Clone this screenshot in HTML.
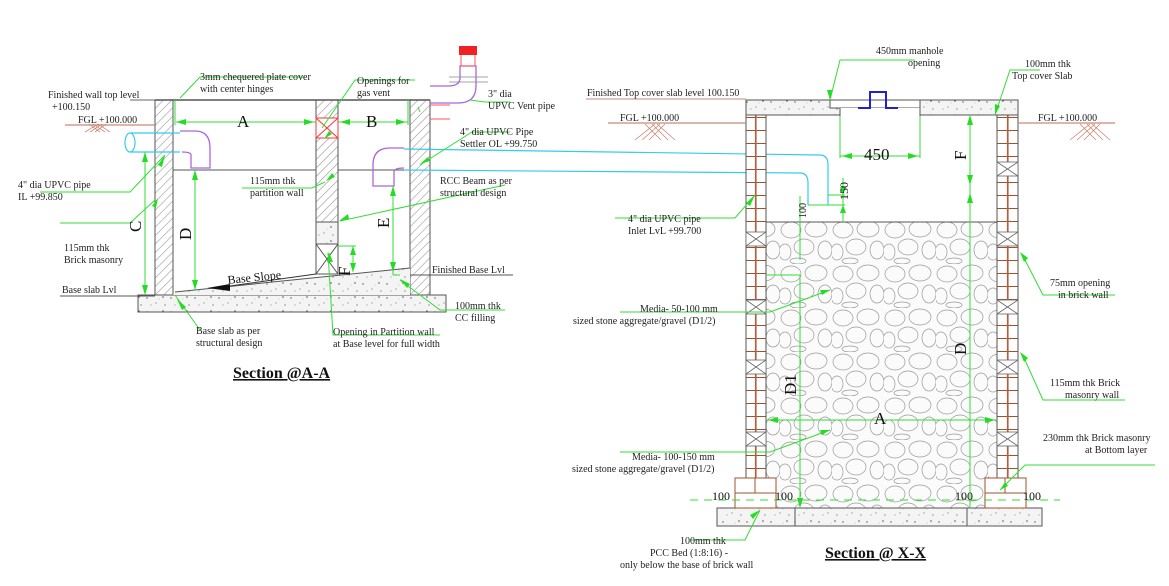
<!DOCTYPE html>
<html><head><meta charset="utf-8"><style>
html,body{margin:0;padding:0;background:#fff;}
svg{display:block;font-family:"Liberation Serif",serif;}
</style></head><body>
<svg width="1169" height="586" viewBox="0 0 1169 586" xmlns="http://www.w3.org/2000/svg">
<defs>
<pattern id="hatch" width="6" height="6" patternUnits="userSpaceOnUse" patternTransform="rotate(45)">
<rect width="6" height="6" fill="#fff"/><line x1="0" y1="0" x2="0" y2="6" stroke="#999" stroke-width="1.2"/></pattern>
<pattern id="conc" width="24" height="14" patternUnits="userSpaceOnUse">
<rect width="24" height="14" fill="#f4f4f4"/><circle cx="3" cy="4" r=".7" fill="#555"/><circle cx="12" cy="9" r=".6" fill="#777"/><circle cx="19" cy="3" r=".8" fill="#555"/><circle cx="7" cy="11" r=".5" fill="#666"/><circle cx="21" cy="11" r=".6" fill="#555"/><circle cx="15" cy="5" r=".4" fill="#888"/></pattern>
<pattern id="grav" width="52" height="44" patternUnits="userSpaceOnUse">
<rect width="52" height="44" fill="#fbfbfb"/><g fill="none" stroke="#999" stroke-width=".7">
<ellipse cx="11" cy="10" rx="10" ry="8"/><ellipse cx="36" cy="9" rx="11" ry="8"/><ellipse cx="24" cy="27" rx="10" ry="8"/><ellipse cx="5" cy="32" rx="6" ry="8"/><ellipse cx="45" cy="30" rx="7" ry="9"/><ellipse cx="18" cy="41" rx="8" ry="3"/></g></pattern>
<pattern id="brick" width="21" height="13" patternUnits="userSpaceOnUse">
<rect width="21" height="13" fill="#fff"/><line x1="0" y1="0" x2="21" y2="0" stroke="#a0522d" stroke-width="2"/><line x1="0" y1="0" x2="0" y2="13" stroke="#b06040" stroke-width="1.2"/><line x1="20.5" y1="0" x2="20.5" y2="13" stroke="#b06040" stroke-width="1.2"/></pattern>
</defs>

<!-- ============ LEFT SECTION A-A ============ -->
<g stroke="#555" stroke-width="1">
<rect x="138" y="295" width="308" height="17" fill="url(#conc)"/>
<rect x="155" y="100" width="18" height="195" fill="url(#hatch)"/>
<rect x="410" y="100" width="20" height="195" fill="url(#hatch)"/>
<rect x="316" y="100" width="22" height="18" fill="url(#hatch)"/>
<rect x="316" y="138" width="22" height="84" fill="url(#hatch)"/>
<rect x="316" y="222" width="22" height="22" fill="url(#conc)"/>
<rect x="316" y="244" width="22" height="30" fill="#fff"/>
<line x1="316" y1="244" x2="338" y2="274"/><line x1="338" y1="244" x2="316" y2="274"/>
<line x1="155" y1="100" x2="430" y2="100" stroke-width="1.5"/>
<line x1="173" y1="170" x2="316" y2="170"/><line x1="338" y1="170" x2="410" y2="170"/>
<polygon points="175,292 410,268 410,295 173,295" fill="url(#conc)" stroke="none"/>
<line x1="175" y1="292" x2="410" y2="268"/>
<line x1="410" y1="275" x2="513" y2="275"/>
<line x1="60" y1="296" x2="155" y2="296"/>
</g>
<rect x="316" y="118" width="22" height="20" fill="#fff" stroke="#f33"/>
<line x1="316" y1="118" x2="338" y2="138" stroke="#f33"/><line x1="338" y1="118" x2="316" y2="138" stroke="#f33"/>
<line x1="65" y1="125" x2="155" y2="125" stroke="#c87" stroke-width="1.2"/>
<g stroke="#c87" stroke-width=".8"><line x1="85" y1="132" x2="98" y2="124"/><line x1="90" y1="132" x2="102" y2="124"/><line x1="95" y1="132" x2="106" y2="124"/><line x1="110" y1="132" x2="98" y2="124"/><line x1="105" y1="132" x2="93" y2="124"/><line x1="100" y1="132" x2="89" y2="124"/></g>
<g fill="none" stroke="#3ce" stroke-width="1.2">
<path d="M130,133 L180,133 M130,152 L180,152"/><ellipse cx="130" cy="142.5" rx="5" ry="9.5"/>
<path d="M404,149 L820,155 Q828,155 828,165 L828,205 M404,170 L800,173 Q808,173 808,183 L808,205"/>
</g>
<g fill="none" stroke="#a6d" stroke-width="1.3">
<path d="M180,131 L195,131 Q210,131 210,148 L210,168 L191,168 L191,155 Q191,152 182,152"/>
<path d="M404,148 L390,148 Q373,148 373,165 L373,186 L394,186 L394,172 Q394,168 404,168"/>
<path d="M430,86 L448,86 Q460,86 460,78 L460,66 L476,66 L476,86 Q476,103 458,103 L430,103"/>
</g>
<g stroke="#f55" fill="none"><line x1="430" y1="105" x2="450" y2="105"/><line x1="430" y1="119" x2="450" y2="119"/><rect x="461" y="52" width="14" height="14"/></g>
<rect x="459" y="46" width="18" height="9" fill="#e22"/>
<g stroke="#888" stroke-width=".8"><line x1="449" y1="77" x2="488" y2="77"/><line x1="449" y1="82" x2="488" y2="82"/></g>

<g stroke="#3d3" stroke-width="1" fill="none">
<line x1="176" y1="122" x2="316" y2="122"/><line x1="338" y1="122" x2="408" y2="122"/>
<line x1="175" y1="100" x2="175" y2="125"/><line x1="408" y1="100" x2="408" y2="125"/>
<line x1="145" y1="152" x2="145" y2="295"/>
<line x1="195" y1="170" x2="195" y2="290"/>
<line x1="393" y1="186" x2="393" y2="275"/><path d="M393,275 L400,275"/>
<line x1="353" y1="246" x2="353" y2="272"/><line x1="338" y1="246" x2="356" y2="246"/>
<line x1="340" y1="221" x2="505" y2="185"/>
<path d="M165,155 L130,192 L40,192"/><path d="M155,200 L130,223 L60,223"/>
<path d="M180,98 L200,77 L305,77"/><path d="M322,128 L355,80 L415,80"/>
<path d="M325,182 L312,188 L242,188"/><path d="M420,165 L472,132 L510,132"/>
<path d="M418,107 L420,112"/><path d="M470,100 L485,102 L510,102"/>
<path d="M175,295 L200,330"/><path d="M328,253 L333,335 L440,335"/>
<path d="M400,280 L440,310 L505,310"/>
<line x1="130" y1="100" x2="155" y2="100" stroke="#666"/>
</g>
<g fill="#2d2">
<polygon points="176,122 186,119 186,125"/><polygon points="314,122 304,119 304,125"/>
<polygon points="340,122 350,119 350,125"/><polygon points="406,122 396,119 396,125"/>
<polygon points="145,152 142,162 148,162"/><polygon points="145,295 142,285 148,285"/>
<polygon points="195,170 192,180 198,180"/><polygon points="195,290 192,280 198,280"/>
<polygon points="393,186 390,196 396,196"/><polygon points="393,272 390,262 396,262"/>
<polygon points="353,246 350,255 356,255"/><polygon points="353,272 350,263 356,263"/>
<polygon points="165,155 158,165 162,167"/><polygon points="158,198 152,206 156,208"/>
<polygon points="326,181 332,173 335,177"/><polygon points="420,164 428,157 430,161"/>
<polygon points="324,139 329,131 332,134"/><polygon points="339,221 348,214 349,219"/>
<polygon points="177,299 186,307 182,310"/><polygon points="400,279 410,284 407,288"/>
<polygon points="329,252 327,262 333,262"/>
</g>
<polygon points="207,288 230,284 230,291" fill="#111"/>
<line x1="230" y1="286" x2="316" y2="274" stroke="#333"/>

<g font-size="10" fill="#222">
<text x="48" y="98">Finished wall top level</text><text x="52" y="110">+100.150</text>
<text x="78" y="123">FGL +100.000</text>
<text x="18" y="188">4" dia UPVC pipe</text><text x="18" y="200">IL +99.850</text>
<text x="64" y="251">115mm thk</text><text x="64" y="263">Brick masonry</text>
<text x="62" y="293">Base slab Lvl</text>
<text x="200" y="80">3mm chequered plate cover</text><text x="200" y="92">with center hinges</text>
<text x="357" y="84">Openings for</text><text x="357" y="96">gas vent</text>
<text x="488" y="97">3" dia</text><text x="488" y="109">UPVC Vent pipe</text>
<text x="460" y="135">4" dia UPVC Pipe</text><text x="460" y="147">Settler OL +99.750</text>
<text x="250" y="184">115mm thk</text><text x="250" y="196">partition wall</text>
<text x="440" y="184">RCC Beam as per</text><text x="440" y="196">structural design</text>
<text x="432" y="273">Finished Base Lvl</text>
<text x="455" y="309">100mm thk</text><text x="455" y="321">CC filling</text>
<text x="196" y="334">Base slab as per</text><text x="196" y="346">structural design</text>
<text x="333" y="335">Opening in Partition wall</text><text x="333" y="347">at Base level for full width</text>
</g>
<g font-size="17" fill="#111">
<text x="237" y="127">A</text><text x="366" y="127">B</text>
<text transform="translate(141,232) rotate(-90)">C</text>
<text transform="translate(191,240) rotate(-90)">D</text>
<text transform="translate(389,228) rotate(-90)">E</text>
<text transform="translate(350,276) rotate(-90)">F</text>
</g>
<text transform="translate(228,284) rotate(-6)" font-size="12" fill="#111">Base Slope</text>
<text x="233" y="378" font-size="16" font-weight="bold" fill="#111" text-decoration="underline">Section @A-A</text>

<!-- ============ RIGHT SECTION X-X ============ -->
<g stroke="#555" stroke-width="1">
<rect x="717" y="508" width="325" height="18" fill="url(#conc)"/>
<line x1="795" y1="508" x2="795" y2="526"/><line x1="967" y1="508" x2="967" y2="526"/>
<rect x="766" y="222" width="231" height="286" fill="url(#grav)"/>
<rect x="746" y="115" width="20" height="364" fill="url(#brick)"/>
<rect x="997" y="115" width="21" height="364" fill="url(#brick)"/>
<rect x="735" y="478" width="41" height="30" fill="#fff" stroke="#a0522d"/>
<line x1="735" y1="493" x2="776" y2="493" stroke="#a0522d"/><line x1="755" y1="478" x2="755" y2="493" stroke="#a0522d"/>
<rect x="985" y="478" width="41" height="30" fill="#fff" stroke="#a0522d"/>
<line x1="985" y1="493" x2="1026" y2="493" stroke="#a0522d"/><line x1="1005" y1="478" x2="1005" y2="493" stroke="#a0522d"/>
<rect x="746" y="100" width="272" height="15" fill="url(#conc)"/>
<rect x="830" y="100" width="90" height="8" fill="#fff"/>
<rect x="840" y="108" width="80" height="8" fill="#fff" stroke="none"/>
<line x1="840" y1="108" x2="840" y2="116"/><line x1="920" y1="108" x2="920" y2="116"/>
</g>
<g fill="#fff" stroke="#666" stroke-width=".8">
<rect x="746" y="232" width="20" height="14"/><rect x="746" y="300" width="20" height="14"/><rect x="746" y="360" width="20" height="14"/><rect x="746" y="432" width="20" height="14"/>
<rect x="997" y="162" width="21" height="14"/><rect x="997" y="232" width="21" height="14"/><rect x="997" y="300" width="21" height="14"/><rect x="997" y="360" width="21" height="14"/><rect x="997" y="432" width="21" height="14"/>
</g>
<g stroke="#666" stroke-width=".8">
<path d="M746,232 L766,246 M766,232 L746,246 M746,300 L766,314 M766,300 L746,314 M746,360 L766,374 M766,360 L746,374 M746,432 L766,446 M766,432 L746,446"/>
<path d="M997,162 L1018,176 M1018,162 L997,176 M997,232 L1018,246 M1018,232 L997,246 M997,300 L1018,314 M1018,300 L997,314 M997,360 L1018,374 M1018,360 L997,374 M997,432 L1018,446 M1018,432 L997,446"/>
</g>
<path d="M858,108 L870,108 L870,92 L886,92 L886,108 L898,108" fill="none" stroke="#22c" stroke-width="2"/>
<line x1="608" y1="123" x2="746" y2="123" stroke="#c87" stroke-width="1.2"/>
<line x1="1018" y1="123" x2="1115" y2="123" stroke="#c87" stroke-width="1.2"/>
<line x1="586" y1="99" x2="746" y2="99" stroke="#c87"/>
<g stroke="#c87" stroke-width=".8"><path d="M635,140 L655,124 M642,140 L660,124 M649,140 L665,124 M668,140 L652,124 M675,140 L657,124 M661,140 L645,124"/>
<path d="M1070,140 L1090,124 M1077,140 L1095,124 M1084,140 L1100,124 M1103,140 L1087,124 M1110,140 L1092,124 M1096,140 L1080,124"/></g>
<g stroke="#3d3" stroke-width="1" fill="none">
<line x1="840" y1="116" x2="840" y2="158"/><line x1="920" y1="116" x2="920" y2="158"/>
<line x1="840" y1="156" x2="920" y2="156"/>
<line x1="970" y1="115" x2="970" y2="508"/>
<line x1="843" y1="178" x2="843" y2="222"/><line x1="828" y1="195" x2="845" y2="195"/><line x1="808" y1="205" x2="845" y2="205"/>
<line x1="800" y1="196" x2="800" y2="260"/>
<line x1="766" y1="275" x2="800" y2="275"/><line x1="800" y1="275" x2="800" y2="508"/>
<line x1="766" y1="420" x2="997" y2="420"/>
<line x1="690" y1="500" x2="1060" y2="500" stroke-dasharray="8,6"/>
<path d="M830,100 L840,60 L915,60"/><path d="M995,115 L1010,70 L1040,70"/>
<path d="M755,195 L735,218 L615,218"/><path d="M830,290 L770,312 L620,312"/>
<path d="M830,430 L770,452 L620,452"/><path d="M1025,260 L1043,295 L1115,295"/>
<path d="M1025,360 L1043,400 L1125,400"/><path d="M1000,490 L1025,465 L1155,465"/>
<path d="M760,510 L745,540 L690,540"/>
</g>
<g fill="#2d2">
<polygon points="842,156 852,153 852,159"/><polygon points="918,156 908,153 908,159"/>
<polygon points="970,115 967,125 973,125"/><polygon points="970,185 967,175 973,175"/><polygon points="970,193 967,203 973,203"/>
<polygon points="843,195 840,187 846,187"/><polygon points="843,205 840,213 846,213"/>
<polygon points="768,420 778,417 778,423"/><polygon points="995,420 985,417 985,423"/>
<polygon points="830,100 827,90 832,90"/><polygon points="995,115 995,104 1000,106"/>
<polygon points="755,195 746,203 750,206"/><polygon points="830,290 820,290 822,295"/>
<polygon points="830,430 820,430 822,435"/><polygon points="1020,252 1028,258 1024,262"/>
<polygon points="1020,352 1028,358 1024,362"/><polygon points="1000,490 1005,482 1008,486"/>
<polygon points="760,510 750,515 753,519"/><polygon points="800,508 797,498 803,498"/>
</g>
<g font-size="10" fill="#222">
<text x="876" y="54">450mm manhole</text><text x="908" y="66">opening</text>
<text x="1025" y="67">100mm thk</text><text x="1012" y="79">Top cover Slab</text>
<text x="587" y="96">Finished Top cover slab level 100.150</text>
<text x="620" y="121">FGL +100.000</text><text x="1038" y="121">FGL +100.000</text>
<text x="628" y="222">4" dia UPVC pipe</text><text x="628" y="234">Inlet LvL +99.700</text>
<text x="640" y="312">Media- 50-100 mm</text><text x="573" y="324">sized stone aggregate/gravel (D1/2)</text>
<text x="632" y="460">Media- 100-150 mm</text><text x="572" y="472">sized stone aggregate/gravel (D1/2)</text>
<text x="1050" y="286">75mm opening</text><text x="1058" y="298">in brick wall</text>
<text x="1050" y="386">115mm thk Brick</text><text x="1065" y="398">masonry wall</text>
<text x="1043" y="441">230mm thk Brick masonry</text><text x="1085" y="453">at Bottom layer</text>
<text x="680" y="544">100mm thk</text><text x="650" y="556">PCC Bed (1:8:16) -</text><text x="620" y="568">only below the base of brick wall</text>
</g>
<g font-size="12" fill="#111">
<text x="712" y="500">100</text><text x="775" y="500">100</text><text x="955" y="500">100</text><text x="1023" y="500">100</text>
<text transform="translate(848,200) rotate(-90)">150</text>
<text transform="translate(806,218) rotate(-90)" font-size="10">100</text>
</g>
<g font-size="17" fill="#111">
<text x="864" y="160">450</text>
<text transform="translate(966,160) rotate(-90)">F</text>
<text transform="translate(966,355) rotate(-90)">D</text>
<text transform="translate(796,395) rotate(-90)">D1</text>
<text x="874" y="424">A</text>
</g>
<text x="825" y="558" font-size="16" font-weight="bold" fill="#111" text-decoration="underline">Section @ X-X</text>
</svg>
</body></html>
